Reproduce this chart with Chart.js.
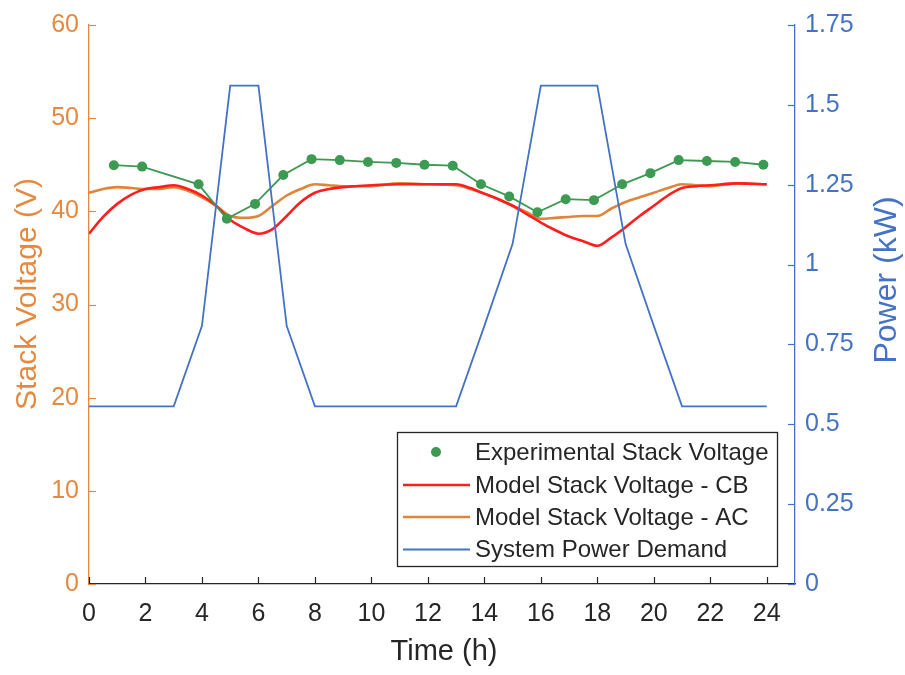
<!DOCTYPE html>
<html>
<head>
<meta charset="utf-8">
<title>Stack Voltage and System Power Demand</title>
<script src="https://cdn.jsdelivr.net/npm/chart.js@4.4.1/dist/chart.umd.min.js"></script>
<style>
  html, body { margin: 0; padding: 0; background: #ffffff; }
  #wrap { width: 905px; height: 675px; }
</style>
</head>
<body>
<div id="wrap"><canvas id="chart" width="905" height="675"></canvas></div>
<script>
// ---- data ----
// model time grid (h)
const timeModel = [0, 0.5, 1, 1.5, 2, 2.5, 3, 3.5, 4, 4.5, 5, 5.5, 6, 6.5, 7, 7.5, 8, 8.5, 9, 10, 11, 12, 13,
  13.5, 14, 14.5, 15, 15.5, 16, 16.5, 17, 17.5, 18, 18.5, 19, 19.5, 20, 20.5, 21, 21.5, 22, 23, 24];
// model stack voltage, CB (V)
const voltageCB = [37.6, 39.4, 40.8, 41.8, 42.4, 42.6, 42.8, 42.4, 41.7, 40.6, 39.1, 38.2, 37.6, 38.1, 39.5, 41.0, 42.0, 42.4, 42.6, 42.8, 42.9, 42.9, 42.9,
  42.5, 41.9, 41.3, 40.6, 39.7, 38.8, 38.0, 37.3, 36.8, 36.3, 37.2, 38.3, 39.5, 40.6, 41.7, 42.5, 42.7, 42.8, 43.0, 42.9];
// model stack voltage, AC (V)
const voltageAC = [42.0, 42.4, 42.6, 42.5, 42.4, 42.4, 42.6, 42.2, 41.5, 40.6, 39.5, 39.3, 39.5, 40.6, 41.7, 42.4, 42.9, 42.8, 42.7, 42.7, 43.0, 42.9, 42.8,
  42.4, 41.9, 41.3, 40.6, 39.9, 39.2, 39.3, 39.4, 39.5, 39.5, 40.3, 41.0, 41.5, 42.0, 42.5, 42.9, 42.8, 42.7, 43.0, 42.9];
// measured stack voltage
const timeExp = [0.88, 1.88, 3.88, 4.88, 5.88, 6.88, 7.88, 8.88, 9.88, 10.88, 11.88, 12.88,
  13.88, 14.88, 15.88, 16.88, 17.88, 18.88, 19.88, 20.88, 21.88, 22.88, 23.88];
const voltageExp = [44.95, 44.8, 42.9, 39.2, 40.8, 43.9, 45.6, 45.5, 45.3, 45.2, 45.0, 44.9,
  42.9, 41.6, 39.9, 41.3, 41.2, 42.9, 44.1, 45.5, 45.4, 45.3, 45.0];
// system power demand (kW)
const timePower = [0, 3, 4, 5, 6, 7, 8, 13, 14, 15, 16, 18, 19, 20, 21, 24];
const power = [0.556, 0.556, 0.808, 1.56, 1.56, 0.808, 0.556, 0.556, 0.808, 1.065, 1.56, 1.56, 1.065, 0.808, 0.556, 0.556];

// axis ticks
const timeTicks = [0, 2, 4, 6, 8, 10, 12, 14, 16, 18, 20, 22, 24];
const voltageTicks = [0, 10, 20, 30, 40, 50, 60];
const powerTicks = [0, 0.25, 0.5, 0.75, 1, 1.25, 1.5, 1.75];

const seriesLabels = ['Experimental Stack Voltage', 'Model Stack Voltage - CB', 'Model Stack Voltage - AC', 'System Power Demand'];

// ---- styling ----
const FONT = '"Liberation Sans", Arial, Helvetica, sans-serif';
const TEXT = '#262626';
const ORANGE_AXIS = '#E58940';
const ORANGE_LINE = '#DF853A';
const BLUE = '#4472C4';
const GREEN = '#3C9A52';
const RED = '#FF1E1E';

const pairs = (xs, ys) => xs.map((x, i) => ({ x: x, y: ys[i] }));
const fixedTicks = (values) => (scale) => { scale.ticks = values.map(v => ({ value: v })); };

// tick marks pointing into the plot area
const inwardTicks = {
  id: 'inwardTicks',
  afterDatasetsDraw(chart) {
    const { ctx, chartArea: a, scales } = chart;
    const len = 7;
    ctx.save();
    ctx.lineWidth = 1.2;
    const seg = (x1, y1, x2, y2) => { ctx.beginPath(); ctx.moveTo(x1, y1); ctx.lineTo(x2, y2); ctx.stroke(); };
    ctx.strokeStyle = ORANGE_AXIS;
    scales.yV.ticks.forEach(t => { const y = Math.round(scales.yV.getPixelForValue(t.value)) + 0.5; seg(a.left, y, a.left + len, y); });
    ctx.strokeStyle = BLUE;
    scales.yP.ticks.forEach(t => { const y = Math.round(scales.yP.getPixelForValue(t.value)) + 0.5; seg(a.right - len, y, a.right, y); });
    ctx.strokeStyle = TEXT;
    scales.x.ticks.forEach(t => { const x = Math.round(scales.x.getPixelForValue(t.value)) + 0.5; seg(x, a.bottom, x, a.bottom - len); });
    ctx.restore();
  }
};

// axis titles
const axisTitles = {
  id: 'axisTitles',
  afterDraw(chart) {
    const { ctx, chartArea: a } = chart;
    ctx.save();
    ctx.textAlign = 'center';
    ctx.textBaseline = 'middle';
    ctx.font = '29px ' + FONT;
    ctx.fillStyle = TEXT;
    ctx.fillText('Time (h)', (a.left + a.right) / 2 + 2, 652);
    ctx.save();
    ctx.font = '30px ' + FONT;
    ctx.translate(28, 294);
    ctx.rotate(-Math.PI / 2);
    ctx.fillStyle = ORANGE_AXIS;
    ctx.fillText('Stack Voltage (V)', 0, 0);
    ctx.restore();
    ctx.save();
    ctx.font = '32px ' + FONT;
    ctx.translate(887, 280);
    ctx.rotate(-Math.PI / 2);
    ctx.fillStyle = BLUE;
    ctx.fillText('Power (kW)', 0, 0);
    ctx.restore();
    ctx.restore();
  }
};

// boxed legend inside the lower right of the plot
const boxLegend = {
  id: 'boxLegend',
  afterDraw(chart) {
    const { ctx } = chart;
    const box = { x: 397, y: 432, w: 380, h: 134 };
    const rows = [452, 485, 517, 549.5];
    ctx.save();
    ctx.fillStyle = '#ffffff';
    ctx.fillRect(box.x, box.y, box.w, box.h);
    ctx.strokeStyle = TEXT;
    ctx.lineWidth = 1.3;
    ctx.strokeRect(box.x + 0.5, box.y + 0.5, box.w, box.h);
    ctx.font = '24px ' + FONT;
    ctx.textAlign = 'left';
    ctx.textBaseline = 'middle';
    const byLabel = {};
    chart.data.datasets.forEach(d => { byLabel[d.label] = d; });
    seriesLabels.forEach((label, i) => {
      const d = byLabel[label];
      const y = rows[i];
      if (d.pointRadius > 0) {
        ctx.fillStyle = d.pointBackgroundColor;
        ctx.beginPath();
        ctx.arc(436, y, 5, 0, Math.PI * 2);
        ctx.fill();
      } else {
        ctx.strokeStyle = d.borderColor;
        ctx.lineWidth = d.borderWidth;
        ctx.beginPath();
        ctx.moveTo(403, y);
        ctx.lineTo(470, y);
        ctx.stroke();
      }
      ctx.fillStyle = TEXT;
      ctx.fillText(label, 475, y + 1);
    });
    ctx.restore();
  }
};

new Chart(document.getElementById('chart'), {
  type: 'line',
  data: {
    datasets: [
      {
        label: seriesLabels[3],
        data: pairs(timePower, power),
        yAxisID: 'yP',
        borderColor: BLUE,
        borderWidth: 1.8,
        pointRadius: 0,
        tension: 0,
        order: 0
      },
      {
        label: seriesLabels[0],
        data: pairs(timeExp, voltageExp),
        yAxisID: 'yV',
        borderColor: GREEN,
        borderWidth: 1.8,
        pointRadius: 5,
        pointBackgroundColor: GREEN,
        pointBorderColor: GREEN,
        pointBorderWidth: 0,
        tension: 0,
        order: 1
      },
      {
        label: seriesLabels[1],
        data: pairs(timeModel, voltageCB),
        yAxisID: 'yV',
        borderColor: RED,
        borderWidth: 2.6,
        pointRadius: 0,
        cubicInterpolationMode: 'monotone',
        order: 2
      },
      {
        label: seriesLabels[2],
        data: pairs(timeModel, voltageAC),
        yAxisID: 'yV',
        borderColor: ORANGE_LINE,
        borderWidth: 2.6,
        pointRadius: 0,
        cubicInterpolationMode: 'monotone',
        order: 3
      }
    ]
  },
  options: {
    responsive: false,
    animation: false,
    devicePixelRatio: 1,
    layout: { padding: { top: 19, left: 0, right: 0, bottom: 0 } },
    plugins: { legend: { display: false }, tooltip: { enabled: false } },
    scales: {
      x: {
        type: 'linear',
        min: 0,
        max: 25,
        afterBuildTicks: fixedTicks(timeTicks),
        afterFit: (s) => { s.height = 91; },
        grid: { display: true, drawOnChartArea: false, drawTicks: false },
        border: { display: true, color: TEXT, width: 1.3 },
        ticks: { color: TEXT, font: { family: FONT, size: 25 }, padding: 15, maxRotation: 0, autoSkip: false }
      },
      yV: {
        type: 'linear',
        position: 'left',
        min: 0,
        max: 60,
        afterBuildTicks: fixedTicks(voltageTicks),
        afterFit: (s) => { s.width = 89; },
        grid: { display: true, drawOnChartArea: false, drawTicks: false },
        border: { display: true, color: ORANGE_AXIS, width: 1.3 },
        ticks: { color: ORANGE_AXIS, font: { family: FONT, size: 25 }, padding: 10, autoSkip: false }
      },
      yP: {
        type: 'linear',
        position: 'right',
        min: 0,
        max: 1.75,
        afterBuildTicks: fixedTicks(powerTicks),
        afterFit: (s) => { s.width = 110; },
        grid: { display: true, drawOnChartArea: false, drawTicks: false },
        border: { display: true, color: BLUE, width: 1.3 },
        ticks: { color: BLUE, font: { family: FONT, size: 25 }, padding: 10, autoSkip: false, callback: (v) => String(v) }
      }
    }
  },
  plugins: [inwardTicks, boxLegend, axisTitles]
});
</script>
</body>
</html>
